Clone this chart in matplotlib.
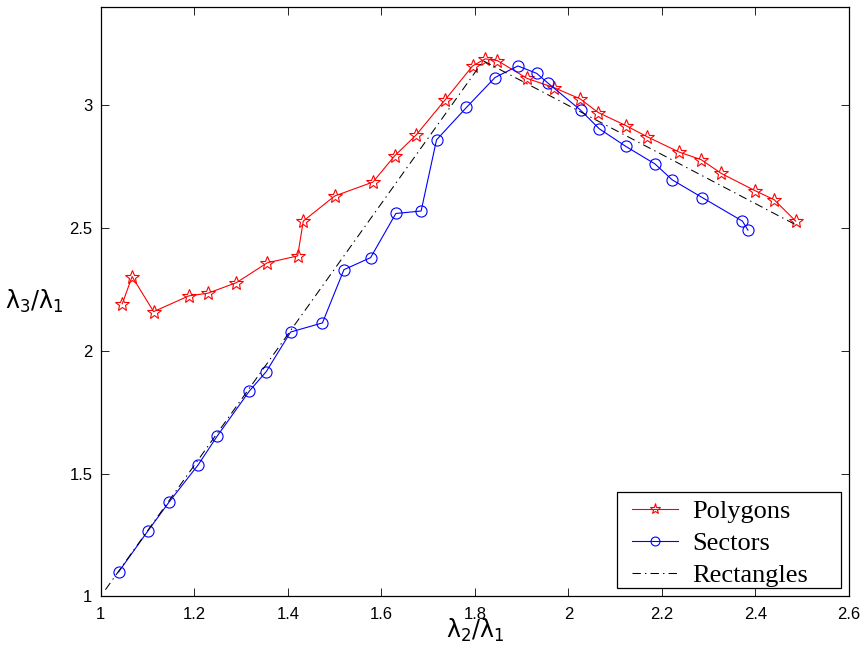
import matplotlib
matplotlib.use("Agg")
import matplotlib.pyplot as plt
from matplotlib.patches import Rectangle

plt.rcParams['mathtext.fontset'] = 'custom'
plt.rcParams['mathtext.rm'] = 'Liberation Sans'
plt.rcParams['mathtext.it'] = 'Liberation Sans'
plt.rcParams['lines.scale_dashes'] = False

poly_x = [1.046, 1.067, 1.113, 1.188, 1.229, 1.290, 1.356, 1.421, 1.433, 1.500,
          1.582, 1.629, 1.674, 1.736, 1.795, 1.822, 1.848, 1.912, 1.969, 2.025,
          2.064, 2.123, 2.169, 2.237, 2.284, 2.327, 2.399, 2.440, 2.486]
poly_y = [2.192, 2.303, 2.160, 2.224, 2.235, 2.278, 2.359, 2.387, 2.529, 2.631,
          2.688, 2.796, 2.879, 3.022, 3.161, 3.190, 3.183, 3.110, 3.073, 3.027,
          2.971, 2.918, 2.872, 2.810, 2.779, 2.723, 2.653, 2.616, 2.529]

sect_x = [1.038, 1.101, 1.146, 1.208, 1.249, 1.318, 1.354, 1.406, 1.474, 1.520,
          1.577, 1.631, 1.685, 1.718, 1.782, 1.843, 1.892, 1.932, 1.957, 2.026,
          2.066, 2.123, 2.185, 2.222, 2.286, 2.372, 2.384]
sect_y = [1.099, 1.267, 1.384, 1.535, 1.653, 1.837, 1.916, 2.077, 2.114, 2.331,
          2.380, 2.560, 2.570, 2.860, 2.992, 3.114, 3.161, 3.131, 3.090, 2.981,
          2.905, 2.833, 2.762, 2.697, 2.625, 2.529, 2.492]

rect_x = [1.01, 1.818, 2.49]
rect_y = [1.027, 3.182, 2.51]

xticks = [1, 1.2, 1.4, 1.6, 1.8, 2, 2.2, 2.4, 2.6]
xticklabels = ['1', '1.2', '1.4', '1.6', '1.8', '2', '2.2', '2.4', '2.6']
yticks = [1, 1.5, 2, 2.5, 3]
yticklabels = ['1', '1.5', '2', '2.5', '3']

fig = plt.figure(figsize=(8.65, 6.53), dpi=100)
ax = fig.add_axes([0.1165, 0.0868, 0.8650, 0.9020])

ax.plot(poly_x, poly_y, color='red', lw=0.8, marker='*', ms=10,
        mfc='none', mec='red', mew=0.8, label='Polygons')
ax.plot(sect_x, sect_y, color='blue', lw=0.8, marker='o', ms=8,
        mfc='none', mec='blue', mew=0.8, label='Sectors')
ax.plot(rect_x, rect_y, color='black', lw=0.75, linestyle=(0, (6, 3, 1, 3)),
        label='Rectangles')

ax.set_xlim(1, 2.6)
ax.set_ylim(1, 3.4)
ax.set_xticks(xticks)
ax.set_xticklabels(xticklabels)
ax.set_yticks(yticks)
ax.set_yticklabels(yticklabels)
ax.tick_params(direction='in', length=5.5, width=0.6, top=True, right=True,
               labelsize=12)
ax.tick_params(axis='x', pad=8)
ax.tick_params(axis='y', pad=6)
for lab in ax.get_xticklabels() + ax.get_yticklabels():
    lab.set_fontfamily('Liberation Sans')
for s in ax.spines.values():
    s.set_linewidth(0.9)

ax.set_xlabel(r'$\mathregular{\lambda_2/\lambda_1}$', fontsize=17, va='center')
ax.xaxis.set_label_coords(0.5, -0.058)
ax.set_ylabel(r'$\mathregular{\lambda_3/\lambda_1}$', fontsize=17, rotation=0,
              va='center', ha='center')
ax.yaxis.set_label_coords(-0.0886, 0.50)

# legend frame (Matlab-style box with extra right margin)
frame = Rectangle((0.690, 0.014), 0.299, 0.163, transform=ax.transAxes,
                  facecolor='white', edgecolor='black', lw=0.9, zorder=4)
ax.add_patch(frame)
leg = ax.legend(loc='upper left', bbox_to_anchor=(0.710, 0.164),
                borderaxespad=0, borderpad=0, frameon=False,
                prop={'family': 'Liberation Serif', 'size': 19},
                handlelength=1.75, handletextpad=0.55, labelspacing=0.32,
                markerscale=0.8)
leg.set_zorder(5)

fig.savefig('out.png', dpi=100)
